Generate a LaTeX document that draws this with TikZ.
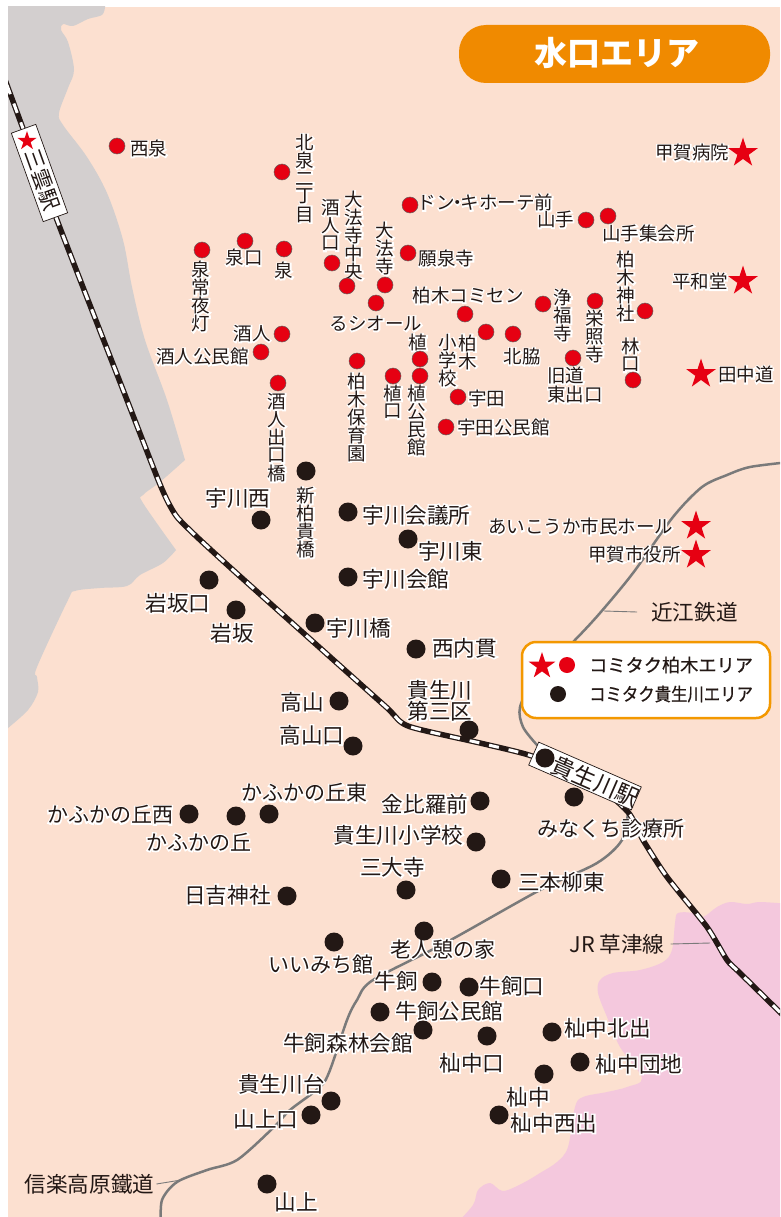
\documentclass[tikz,border=0pt]{standalone}
\usepackage{fontspec}
\usetikzlibrary{shapes.geometric}
\setmainfont{Noto Sans CJK JP}
\newfontfamily\jphalo[FakeBold=14]{Noto Sans CJK JP}
\newfontfamily\jpmed[FakeBold=.6]{Noto Sans CJK JP}
\definecolor{bgc}{HTML}{FCE0D0}
\definecolor{grayc}{HTML}{D3CFCF}
\definecolor{pinkc}{HTML}{F4C8DD}
\definecolor{redc}{HTML}{E60012}
\definecolor{ink}{HTML}{231815}
\definecolor{linec}{HTML}{7A7A7A}
\definecolor{orangec}{HTML}{F08A00}
\definecolor{legc}{HTML}{F39800}
\makeatletter
\newcommand\hl[1]{\leavevmode\rlap{\color{white}\jphalo #1}#1}
\newcommand\vstk[2]{\vbox{\offinterlineskip\@tfor\vch:=#2\do{\hbox to 1em{\hss\vbox to .97em{\vss\hbox{#1\vch}\vss}\hss}}}}
\newcommand\vt[1]{\hbox{\rlap{\vstk{\color{white}\jphalo}{#1}}\vstk{}{#1}}}
\makeatother
\tikzset{
  rl/.style={inner sep=0pt,text=ink,yshift=-.7pt,font=\fontsize{18.5}{19}\selectfont},
  bl/.style={inner sep=0pt,text=ink,yshift=-1pt,font=\fontsize{21.6}{20}\selectfont},
  kl/.style={bl,font=\fontsize{21}{20}\selectfont},
  rdot/.style={circle,inner sep=0pt,minimum size=16pt,fill=redc,draw=ink!70,line width=.5pt},
  bdot/.style={circle,inner sep=0pt,minimum size=19pt,fill=ink},
  bstar/.style={star,star points=5,star point ratio=2.618,inner sep=0pt,minimum size=31pt,fill=redc},
  sstar/.style={bstar,minimum size=28pt},
  signbox/.style={draw=ink,fill=white,line width=.7pt,inner sep=0pt},
  signtxt/.style={inner sep=0pt,text=ink,font=\fontsize{21}{21}\selectfont},
  railb/.style={draw=ink,line width=5.5pt},
  railw/.style={draw=white,line width=3pt,dash pattern=on 10pt off 10pt},
  ohmi/.style={draw=linec,line width=2.5pt,line cap=round},
  leader/.style={draw=linec,line width=.9pt},
  legt/.style={inner sep=0pt,text=ink,font=\fontsize{18.2}{19}\selectfont\jpmed},
}
\begin{document}
\begin{tikzpicture}[x=1pt,y=-1pt]
\useasboundingbox (0,0) rectangle (780,1217);
\fill[white] (0,0) rectangle (780,1217);
\begin{scope}
\clip (8,7) rectangle (780,1217);
\fill[bgc] (8,7) rectangle (780,1217);
% gray region
\fill[grayc] plot[smooth,tension=.55] coordinates {(105,7)(102,15)(88,19)(73,26)(63,24)(61,30)(68,42)(74,70)(68,88)(59,113)(63,125)(87,157)(107,193)(123,240)(132,287)(145,340)(167,400)(185,460)} -- plot[smooth,tension=.55] coordinates {(185,460)(160,482)(143,495)(143,503)(176,550)} -- plot[smooth,tension=.55] coordinates {(176,550)(163,563)(140,575)(127,586)(100,588)(75,591)(68,600)(37,667)(37,677)(38,692)(28,710)(8,728)} -- (0,735) -- (0,0) -- (105,0) -- cycle;
% pink region
\fill[pinkc] plot[smooth,tension=.55] coordinates {(790,904)(760,902)(747,904)(730,902)(717,907)(703,917)(693,913)(678,913)(675,923)(672,950)(663,962)(640,970)(613,973)(600,980)(598,993)(607,1017)(620,1047)(642,1078)(627,1087)(607,1092)(583,1097)(575,1107)(568,1147)(557,1162)(540,1173)(523,1183)(503,1191)(490,1183)(478,1190)(473,1205)(455,1225)} -- (790,1225) -- cycle;
% railways
\draw[ohmi] plot[smooth,tension=.5] coordinates {(790,462)(750,467)(727,475)(702,487)(673,517)(633,573)(600,613)(575,640)(535,680)(520,707)(523,727)(537,745)};
\draw[ohmi] plot[smooth,tension=.5] coordinates {(628,812)(622,840)(597,863)(540,890)(447,942)(373,980)(357,1000)(347,1020)(330,1070)(320,1087)(290,1110)(273,1128)(237,1160)(207,1170)(177,1182)(162,1200)(161,1225)};
\path[railb] plot[smooth,tension=.4] coordinates {(0,66)(57,220)(127,400)(157,477)(167,500)(177,517)(197,537)(233,570)(300,630)(385,706)(408,726)(480,743)(532,756)(590,780)(628,812)(643,840)(667,877)(707,927)(727,960)(740,973)(790,1022)};
\path[railw] plot[smooth,tension=.4] coordinates {(0,66)(57,220)(127,400)(157,477)(167,500)(177,517)(197,537)(233,570)(300,630)(385,706)(408,726)(480,743)(532,756)(590,780)(628,812)(643,840)(667,877)(707,927)(727,960)(740,973)(790,1022)};
\end{scope}
% leaders
\coordinate (cOhmi) at (604,611);
\coordinate (cJR) at (710,943);
\coordinate (cShiga) at (181,1180);
% title
\node[fill=orangec,rounded corners=27pt,minimum width=311pt,minimum height=58pt,inner sep=0pt] (title) at (614.5,54) {};
\node[inner sep=0pt,text=white,font=\fontsize{33}{33}\selectfont\bfseries] (titletxt) at (617,53) {水口エリア};
% signs
\node[signbox,rotate=-70.2,minimum width=94pt,minimum height=26pt] (mikumo) at (39.5,173) {};
\node[star,star points=5,star point ratio=2.618,inner sep=0pt,minimum size=20pt,fill=redc] (mikumostar) at (27,141) {};
\node[signtxt,rotate=-70.2] (mikumotxt) at (42,180) {三雲駅};
\node[signbox,rotate=-23.6,minimum width=112pt,minimum height=25pt] (kibukawa) at (585,776) {};
\node[signtxt,rotate=-23.6,font=\fontsize{23}{23}\selectfont] (kibukawatxt) at (595.5,781.5) {貴生川駅};
\node[bdot] (kibukawadot) at (545,758) {};
% red labels
\node[rl] (t1) at (148.5,148) {\hl{西泉}};
\node[rl] (t2) at (244,257) {\hl{泉口}};
\node[rl] (t3) at (284,270) {\hl{泉}};
\node[rl] (t4) at (252,333) {\hl{酒人}};
\node[rl] (t5) at (202.5,356) {\hl{酒人公民館}};
\node[rl] (t6) at (376,323) {\hl{るシオール}};
\node[rl] (t7) at (485.5,202) {\hl{ドン\kern-.34em・\kern-.34em キホーテ前}};
\node[rl] (t8) at (446.5,258) {\hl{願泉寺}};
\node[rl] (t9) at (468,295) {\hl{柏木コミセン}};
\node[rl] (t10) at (522,356) {\hl{北脇}};
\node[rl] (t11) at (555.5,219) {\hl{山手}};
\node[rl] (t12) at (648.5,233) {\hl{山手集会所}};
\node[rl] (t13) at (418,342) {\hl{植}};
\node[rl] (t14) at (486.5,398) {\hl{宇田}};
\node[rl] (t15) at (503.5,427) {\hl{宇田公民館}};
\node[rl,anchor=west,align=left] (t16) at (547,384.5) {\hl{旧道}\\\hl{東出口}};
\node[rl] (t17) at (692,152) {\hl{甲賀病院}};
\node[rl] (t18) at (700,281) {\hl{平和堂}};
\node[rl] (t19) at (746,374) {\hl{田中道}};
\node[rl] (t20) at (580.5,526) {\hl{あいこうか市民ホール}};
\node[rl] (t21) at (634.5,554) {\hl{甲賀市役所}};
% vertical labels
\node[rl] (v1) at (305,178) {\vt{北泉二丁目}};
\node[rl] (v2) at (331,225) {\vt{酒人口}};
\node[rl] (v3) at (354,235) {\vt{大法寺中央}};
\node[rl] (v4) at (385,248) {\vt{大法寺}};
\node[rl] (v5) at (201,296) {\vt{泉常夜灯}};
\node[rl] (v6) at (277,437) {\vt{酒人出口橋}};
\node[rl] (v7) at (357,417) {\vt{柏木保育園}};
\node[rl] (v8) at (393,402) {\vt{植口}};
\node[rl] (v9) at (417,420) {\vt{植公民館}};
\node[rl] (v10) at (448,360) {\vt{小学校}};
\node[rl] (v11) at (468,351.5) {\vt{柏木}};
\node[rl] (v12) at (563,315) {\vt{浄福寺}};
\node[rl] (v13) at (595,336) {\vt{栄照寺}};
\node[rl] (v14) at (626,286) {\vt{柏木神社}};
\node[rl] (v15) at (631,355) {\vt{林口}};
\node[rl] (v16) at (306,522) {\vt{新柏貴橋}};
% black labels
\node[bl] (b1) at (238,497) {\hl{宇川西}};
\node[bl] (b2) at (416.5,514) {\hl{宇川会議所}};
\node[bl] (b3) at (450.5,550) {\hl{宇川東}};
\node[bl] (b4) at (406,578) {\hl{宇川会館}};
\node[bl] (b5) at (178,602) {\hl{岩坂口}};
\node[bl] (b6) at (232,632) {\hl{岩坂}};
\node[bl] (b7) at (358.5,627) {\hl{宇川橋}};
\node[bl] (b8) at (464.5,647) {\hl{西内貫}};
\node[bl] (b9) at (302.5,701) {\hl{高山}};
\node[bl] (b10) at (312,734) {\hl{高山口}};
\node[bl,align=center] (b11) at (440,699.5) {\hl{貴生川}\\\hl{第三区}};
\node[bl] (b12) at (425,803) {\hl{金比羅前}};
\node[kl] (b13) at (611,828) {\hl{みなくち診療所}};
\node[bl] (b14) at (398.5,834) {\hl{貴生川小学校}};
\node[kl] (b15) at (304,792) {\hl{かふかの丘東}};
\node[kl] (b16) at (198.5,841) {\hl{かふかの丘}};
\node[kl] (b17) at (110,814) {\hl{かふかの丘西}};
\node[bl] (b18) at (392.5,866) {\hl{三大寺}};
\node[bl] (b19) at (561.5,881) {\hl{三本柳東}};
\node[bl] (b20) at (227.5,894) {\hl{日吉神社}};
\node[kl] (b21) at (442.5,948) {\hl{老人憩の家}};
\node[kl] (b22) at (320.5,963) {\hl{いいみち館}};
\node[bl] (b23) at (396.5,980) {\hl{牛飼}};
\node[bl] (b24) at (512,985) {\hl{牛飼口}};
\node[bl] (b25) at (449.5,1010) {\hl{牛飼公民館}};
\node[bl] (b26) at (348,1042) {\hl{牛飼森林会館}};
\node[bl] (b27) at (472,1062) {\hl{杣中口}};
\node[bl] (b28) at (607.5,1027) {\hl{杣中北出}};
\node[bl] (b29) at (639,1063) {\hl{杣中団地}};
\node[bl] (b30) at (528.5,1096) {\hl{杣中}};
\node[bl] (b31) at (554,1122) {\hl{杣中西出}};
\node[bl] (b32) at (281.5,1083) {\hl{貴生川台}};
\node[bl] (b33) at (266,1118) {\hl{山上口}};
\node[bl] (b34) at (296.5,1201) {\hl{山上}};
\node[bl] (oumi) at (694.5,611) {近江鉄道};
\node[bl] (jrl) at (617,943) {JR 草津線};
\node[bl] (shiga) at (89.5,1183) {信楽高原鐵道};
\draw[leader] ([xshift=-14pt]oumi.west) -- (cOhmi);
\draw[leader] ([xshift=6pt]jrl.east) -- (cJR);
\draw[leader] ([xshift=2pt]shiga.east) -- (cShiga);
% red dots
\foreach \n/\x/\y in {a1/117/146,a2/282/172,a3/332/263,a4/347/286,a5/385/285,a6/376/303,a7/410/205,a8/408/253,a9/465/314,a10/486/332,a11/513/334,a12/543/304,a13/595/301,a14/645/311,a15/586/220,a16/608/216,a17/573/358,a18/633/380,a19/284/249,a20/245/241,a21/202/250,a22/282/334,a23/261/352,a24/278/383,a25/357/361,a26/420/359,a27/393/376,a28/420/376,a29/458/397,a30/446/427}
  \node[rdot] (\n) at (\x,\y) {};
% black dots
\foreach \n/\x/\y in {c1/306/471,c2/261/520,c3/348/512,c4/408/539,c5/348/577,c6/209/580,c7/236/610,c8/315/623,c9/416/649,c10/339/701,c11/353/746,c12/469/730,c13/480/801,c14/574/797,c15/476/842,c16/269/814,c17/236/816,c18/189/814,c19/406/890,c20/501/879,c21/287/896,c22/424/931,c23/334/942,c24/432/982,c25/469/987,c26/380/1012,c27/423/1030,c28/487/1036,c29/552/1032,c30/580/1062,c31/544/1074,c32/499/1115,c33/331/1101,c34/311/1115,c35/267/1184}
  \node[bdot] (\n) at (\x,\y) {};
% stars
\foreach \n/\x/\y in {s1/743/153,s2/743/281,s3/701/374,s4/696/526,s5/696/555}
  \node[bstar] (\n) at (\x,\y) {};
% legend
\node[fill=white,draw=legc,line width=2.5pt,rounded corners=14pt,minimum width=248pt,minimum height=76pt,inner sep=0pt] (legend) at (646,680) {};
\node[sstar] (lstar) at (542,666) {};
\node[rdot,draw=none] (lred) at (567,665) {};
\node[bdot,minimum size=16pt] (lblack) at (558,694) {};
\node[legt,anchor=west] (l1) at (589,665) {コミタク柏木エリア};
\node[legt,anchor=west] (l2) at (589,694) {\scalebox{.9}[1]{コミタク貴生川エリア}};
\end{tikzpicture}
\end{document}
